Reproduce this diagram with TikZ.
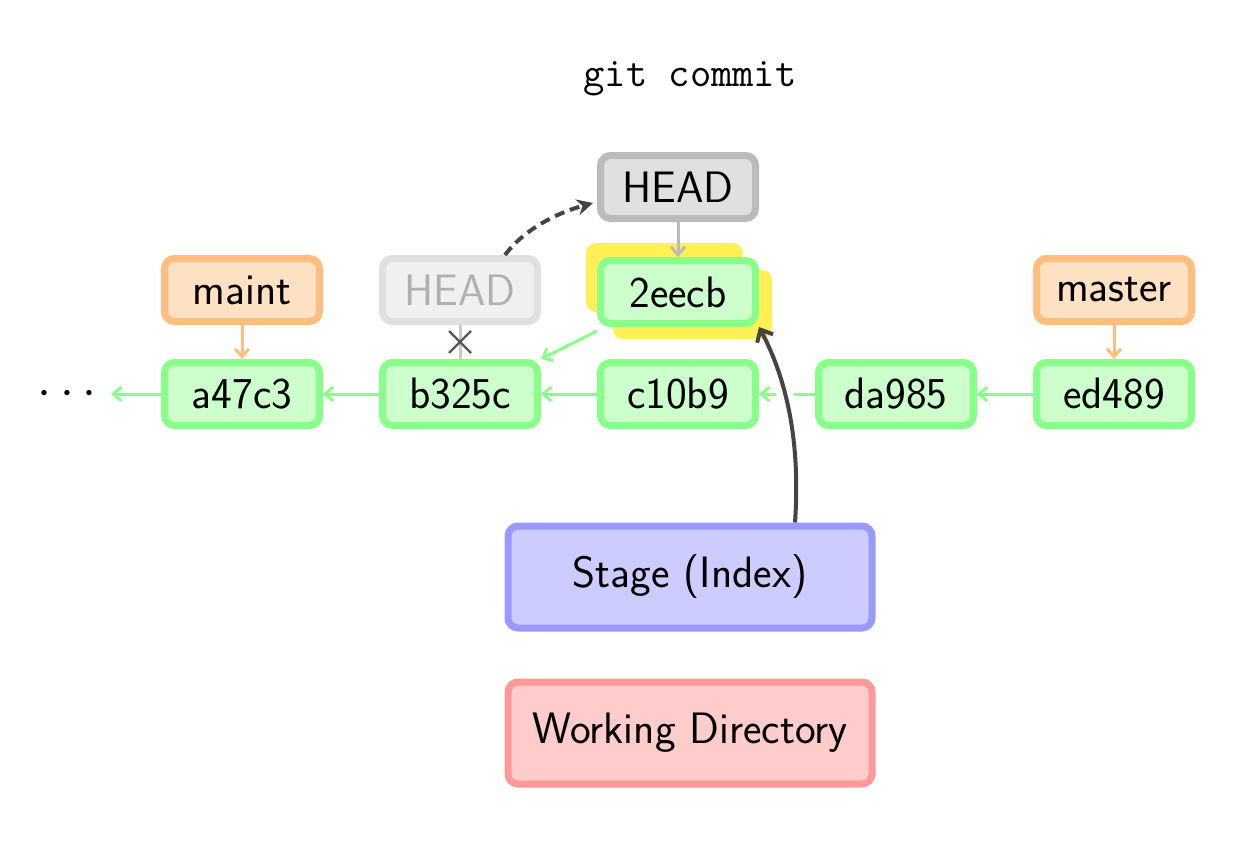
\documentclass[tikz,border=0pt]{standalone}
\usetikzlibrary{arrows.meta,calc}
\definecolor{commitfill}{HTML}{CCFFCC}
\definecolor{commitdraw}{HTML}{88FF88}
\definecolor{branchfill}{HTML}{FEE1C3}
\definecolor{branchdraw}{HTML}{FFBE80}
\definecolor{headfill}{HTML}{E0E0E0}
\definecolor{headdraw}{HTML}{BBBBBB}
\definecolor{oldfill}{HTML}{F0F0F0}
\definecolor{olddraw}{HTML}{E0E0E0}
\definecolor{oldtext}{HTML}{B0B0B0}
\definecolor{stagefill}{HTML}{CCCCFF}
\definecolor{stagedraw}{HTML}{9999FF}
\definecolor{workfill}{HTML}{FFCCCC}
\definecolor{workdraw}{HTML}{FF9999}
\definecolor{hilite}{HTML}{FFF055}
\definecolor{darkarrow}{HTML}{444444}
\tikzset{
  box/.style={rectangle, rounded corners=5pt, line width=3.5pt, minimum width=77.5pt,
    minimum height=31.5pt, inner sep=0pt, font=\sffamily\fontsize{22}{26}\selectfont},
  commit/.style={box, fill=commitfill, draw=commitdraw},
  branch/.style={box, fill=branchfill, draw=branchdraw},
  headbox/.style={box, fill=headfill, draw=headdraw},
  oldhead/.style={box, fill=oldfill, draw=olddraw, text=oldtext},
  area/.style={box, minimum width=182pt, minimum height=51pt},
  hl/.style={fill=hilite, rounded corners=5pt},
  garrow/.style={draw=commitdraw, line width=1.5pt, -{Straight Barb[length=4pt,width=7pt]}},
  oarrow/.style={draw=branchdraw, line width=1.5pt, -{Straight Barb[length=4pt,width=7pt]}},
  harrow/.style={draw=headdraw, line width=1.5pt, -{Straight Barb[length=4pt,width=7pt]}},
}
\begin{document}
\begin{tikzpicture}[x=0.5pt,y=-0.5pt]
\useasboundingbox (0,0) rectangle (1256,846);
% title
\node (title) at (690,79) {\ttfamily\fontsize{20.7}{24}\selectfont git commit};
% highlight behind new commit
\coordinate (hlA1) at (586,243); \coordinate (hlA2) at (743,312);
\coordinate (hlB1) at (613,270); \coordinate (hlB2) at (772,339);
\fill[hl] (hlA1) rectangle (hlA2);
\fill[hl] (hlB1) rectangle (hlB2);
% commits
\node (dots) at (67,394) {\fontsize{24}{28}\selectfont$\cdots$};
\node[commit] (a) at (242,394) {a47c3};
\node[commit] (b) at (460,394) {b325c};
\node[commit] (c) at (678,394) {c10b9};
\node[commit] (d) at (896,394) {da985};
\node[commit] (e) at (1114,394) {ed489};
\node[commit] (n) at (678,292) {2eecb};
% refs
\node[branch] (maint) at (242,290) {maint};
\node[branch] (master) at (1114,290) {master};
\node[oldhead] (oh) at (460,290) {HEAD};
\node[headbox] (head) at (678,187) {HEAD};
% areas
\node[area, fill=stagefill, draw=stagedraw] (stage) at (690,577) {Stage (Index)};
\node[area, fill=workfill, draw=workdraw] (work) at (690,733) {Working Directory};
% history arrows
\draw[garrow, shorten >=4pt] (a) -- (dots);
\draw[garrow] (b) -- (a);
\draw[garrow] (c) -- (b);
\draw[garrow] (d) -- (c);
\draw[garrow] (e) -- (d);
\draw[garrow] ([yshift=-2pt]n.south west) -- (b.north east);
% ref arrows
\draw[oarrow] (maint) -- (a);
\draw[oarrow] (master) -- (e);
\draw[harrow] (head) -- (n);
% old head link, crossed out
\draw[draw=headdraw!80, line width=1.5pt] (oh.south) -- (b.north);
\coordinate (x) at ($(oh.south)!0.5!(b.north)$);
\draw[darkarrow!90, line width=1.2pt] ($(x)+(-11,-11)$) -- ($(x)+(11,11)$);
\draw[darkarrow!90, line width=1.2pt] ($(x)+(-11,11)$) -- ($(x)+(11,-11)$);
% HEAD moves
\coordinate (ohtop) at ($(oh.north)+(45,0)$);
\coordinate (hw) at ([xshift=-2pt,yshift=-8pt]head.west);
\draw[darkarrow, line width=2pt, dash pattern=on 5pt off 3pt, -{Stealth[length=8pt,width=8pt]}]
  (ohtop) .. controls ($(ohtop)+(20,-27)$) and ($(hw)+(-33,9)$) .. (hw);
% stage -> new commit, with a white halo over the history line
\coordinate (st) at ($(stage.north)+(105,0)$);
\coordinate (nt) at (n.south east);
\begin{scope}
  \clip (760,375) rectangle (815,415);
  \draw[white, line width=8.5pt] (st) .. controls ($(st)+(5,-72)$) and ($(st)+(-5,-137)$) .. (nt);
\end{scope}
\draw[darkarrow, line width=2pt, -{Straight Barb[length=5pt,width=9pt]}]
  (st) .. controls ($(st)+(5,-72)$) and ($(st)+(-5,-137)$) .. (nt);
\end{tikzpicture}
\end{document}
